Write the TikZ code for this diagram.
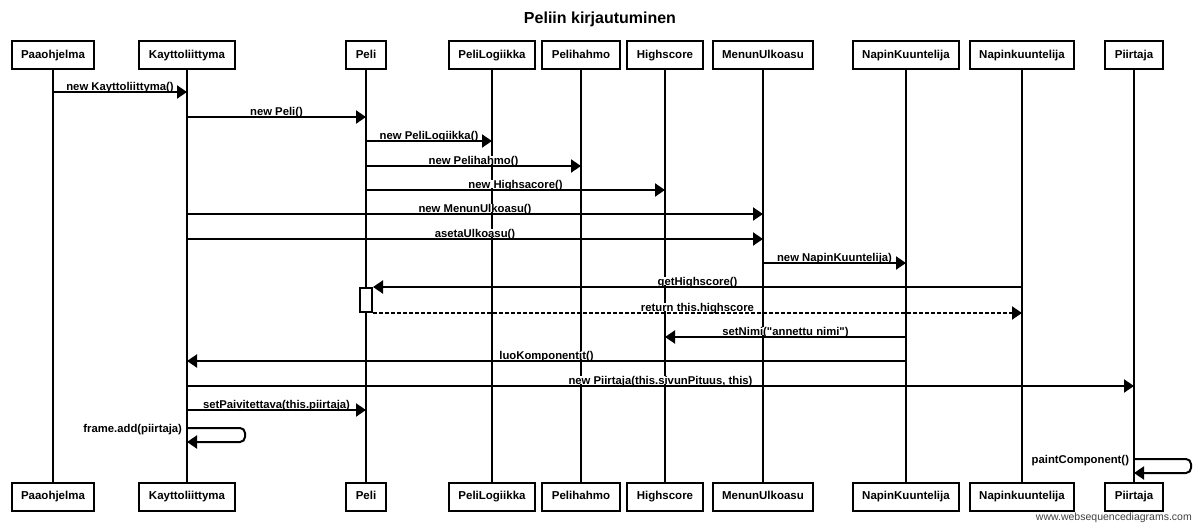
\documentclass[tikz,border=0pt]{standalone}
\usepackage{fontspec}
\setmainfont{Liberation Sans}
\usetikzlibrary{arrows.meta,positioning,calc}
\tikzset{
  actor/.style={draw,line width=2pt,fill=white,minimum height=28pt,inner xsep=9.5pt,inner ysep=0pt,text height=8.4pt,text depth=2.4pt,font=\fontsize{11.5}{13}\selectfont\bfseries},
  life/.style={line width=2pt},
  msg/.style={line width=2pt,-{Triangle[length=10pt,width=13pt]}},
  ret/.style={msg,dash pattern=on 4pt off 2pt},
  lbl/.style={anchor=base,yshift=2pt,fill=white,inner xsep=1pt,inner ysep=0pt,text depth=0pt,font=\fontsize{11.3}{13}\selectfont\bfseries},
  selflbl/.style={anchor=base east,xshift=-4pt,yshift=-4pt,inner sep=0pt,font=\fontsize{11.3}{13}\selectfont\bfseries},
  actbox/.style={draw,line width=2pt,fill=white,minimum width=12pt,minimum height=24pt,inner sep=0pt}
}
\begin{document}
\begin{tikzpicture}[x=1pt,y=-1pt]
  \useasboundingbox (0,0) rectangle (1200,530);
  \node[anchor=base,font=\fontsize{16}{19}\selectfont\bfseries] (title) at (600,23.3) {Peliin kirjautuminen};
  % participants, top and bottom
  \node[actor] (pa) at (53,55) {Paaohjelma};
  \node[actor] (kay) at (187,55) {Kayttoliittyma};
  \node[actor] (peli) at (366,55) {Peli};
  \node[actor] (logi) at (492,55) {PeliLogiikka};
  \node[actor] (hahmo) at (581,55) {Pelihahmo};
  \node[actor] (hs) at (665,55) {Highscore};
  \node[actor] (menu) at (763,55) {MenunUlkoasu};
  \node[actor] (nk) at (906,55) {NapinKuuntelija};
  \node[actor] (nk2) at (1022,55) {Napinkuuntelija};
  \node[actor] (piir) at (1134,55) {Piirtaja};
  \node[actor] (pab) at (53,496.5) {Paaohjelma};
  \node[actor] (kayb) at (187,496.5) {Kayttoliittyma};
  \node[actor] (pelib) at (366,496.5) {Peli};
  \node[actor] (logib) at (492,496.5) {PeliLogiikka};
  \node[actor] (hahmob) at (581,496.5) {Pelihahmo};
  \node[actor] (hsb) at (665,496.5) {Highscore};
  \node[actor] (menub) at (763,496.5) {MenunUlkoasu};
  \node[actor] (nkb) at (906,496.5) {NapinKuuntelija};
  \node[actor] (nk2b) at (1022,496.5) {Napinkuuntelija};
  \node[actor] (piirb) at (1134,496.5) {Piirtaja};
  % lifelines
  \draw[life] (pa) -- (pab);
  \draw[life] (kay) -- (kayb);
  \draw[life] (peli) -- (pelib);
  \draw[life] (logi) -- (logib);
  \draw[life] (hahmo) -- (hahmob);
  \draw[life] (hs) -- (hsb);
  \draw[life] (menu) -- (menub);
  \draw[life] (nk) -- (nkb);
  \draw[life] (nk2) -- (nk2b);
  \draw[life] (piir) -- (piirb);
  \node[actbox] (act) at (366,300) {};
  % message rows
  \coordinate (r1) at (0,92);
  \coordinate (r2) at (0,117);
  \coordinate (r3) at (0,141);
  \coordinate (r4) at (0,166);
  \coordinate (r5) at (0,190);
  \coordinate (r6) at (0,214);
  \coordinate (r7) at (0,239);
  \coordinate (r8) at (0,263);
  \coordinate (r11) at (0,337);
  \coordinate (r12) at (0,361);
  \coordinate (r13) at (0,386);
  \coordinate (r14) at (0,410);
  \coordinate (r15) at (0,428);
  \coordinate (r15b) at (0,442);
  \coordinate (r16) at (0,459);
  \coordinate (r16b) at (0,473);
  % messages
  \draw[msg] (pa |- r1) -- (kay |- r1) node[midway,lbl] {new Kayttoliittyma()};
  \draw[msg] (kay |- r2) -- (peli |- r2) node[midway,lbl] {new Peli()};
  \draw[msg] (peli |- r3) -- (logi |- r3) node[midway,lbl] {new PeliLogiikka()};
  \draw[msg] (peli |- r4) -- (hahmo |- r4) node[midway,lbl] {new Pelihahmo()};
  \draw[msg] (peli |- r5) -- (hs |- r5) node[midway,lbl] {new Highsacore()};
  \draw[msg] (kay |- r6) -- (menu |- r6) node[midway,lbl] {new MenunUlkoasu()};
  \draw[msg] (kay |- r7) -- (menu |- r7) node[midway,lbl] {asetaUlkoasu()};
  \draw[msg] (menu |- r8) -- (nk |- r8) node[midway,lbl] {new NapinKuuntelija)};
  \draw[msg] (nk2 |- act.north east) -- (act.north east) node[midway,lbl] {getHighscore()};
  \draw[ret] (act.south east) -- (nk2 |- act.south east) node[midway,lbl] {return this.highscore};
  \draw[msg] (nk |- r11) -- (hs |- r11) node[midway,lbl] {setNimi(\textquotedbl annettu nimi\textquotedbl)};
  \draw[msg] (nk |- r12) -- (kay |- r12) node[midway,lbl] {luoKomponentit()};
  \draw[msg] (kay |- r13) -- (piir |- r13) node[midway,lbl] {new Piirtaja(this.sivunPituus, this)};
  \draw[msg] (kay |- r14) -- (peli |- r14) node[midway,lbl] {setPaivitettava(this.piirtaja)};
  \draw[msg,rounded corners=5pt] (kay |- r15) node[selflbl] {frame.add(piirtaja)} -- ++(58,0) |- (kay |- r15b);
  \draw[msg,rounded corners=5pt] (piir |- r16) node[selflbl] {paintComponent()} -- ++(57,0) |- (piir |- r16b);
  \node[anchor=base east,inner sep=0pt,text=black!75,font=\fontsize{10.5}{12}\selectfont] (wsd) at (1192,520) {www.websequencediagrams.com};
\end{tikzpicture}
\end{document}
